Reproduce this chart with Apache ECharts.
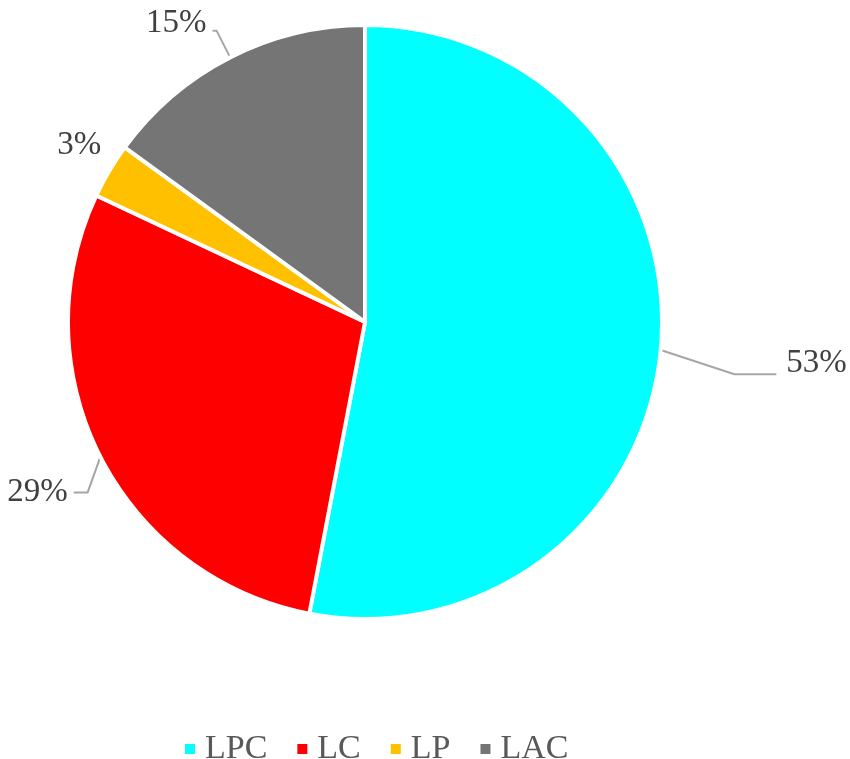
<!DOCTYPE html>
<html>
<head>
<meta charset="utf-8">
<script src="https://cdn.jsdelivr.net/npm/echarts@6/dist/echarts.min.js"></script>
<style>html,body{margin:0;padding:0;background:#fff}#c{width:850px;height:759px}</style>
</head>
<body>
<div id="c"></div>
<script>
const categories = ["LPC", "LC", "LP", "LAC"];
const values = [53, 29, 3, 15];
const colors = ["#00FFFF", "#FF0000", "#FFC000", "#757575"];
const lineLengths = [[78, 42], [30, 14], [0, 6], [30, 4]];
// label offsets [dx, dy] and label-line elbow offsets [dx, dy]
const labelShift = [[0, 6], [14, 22], [4, -25], [0, -7]];
const elbowShift = [[-4, 17], [14, 22], [0, 0], [0, 0]];

const chart = echarts.init(document.getElementById('c'));
const font = '"Liberation Serif", "Times New Roman", serif';
chart.setOption({
  animation: false,
  legend: {
    data: categories,
    left: 178,
    top: 727,
    icon: 'rect',
    itemWidth: 12,
    itemHeight: 12,
    itemGap: 28,
    textStyle: { fontFamily: font, fontSize: 34, color: '#595959', padding: [0, 0, 0, 4] }
  },
  series: [{
    type: 'pie',
    center: [365, 322],
    radius: [0, 297],
    startAngle: 90,
    clockwise: true,
    avoidLabelOverlap: false,
    itemStyle: { borderColor: '#fff', borderWidth: 4 },
    label: {
      show: true,
      formatter: '{c}%',
      fontFamily: font,
      fontSize: 33,
      color: '#404040',
      distanceToLabelLine: 6
    },
    labelLine: { lineStyle: { color: '#A6A6A6', width: 2 } },
    labelLayout: function (p) {
      const s = labelShift[p.dataIndex];
      const e = elbowShift[p.dataIndex];
      const out = { dx: s[0], dy: s[1] };
      const pts = p.labelLinePoints;
      if (pts && pts.length === 3) {
        out.labelLinePoints = [
          [pts[0][0], pts[0][1]],
          [pts[1][0] + e[0], pts[1][1] + e[1]],
          [pts[2][0] + e[0], pts[2][1] + e[1]]
        ];
      }
      return out;
    },
    data: categories.map((n, i) => ({
      name: n,
      value: values[i],
      itemStyle: { color: colors[i] },
      labelLine: { length: lineLengths[i][0], length2: lineLengths[i][1], show: lineLengths[i][0] > 0 }
    }))
  }]
});
</script>
</body>
</html>
